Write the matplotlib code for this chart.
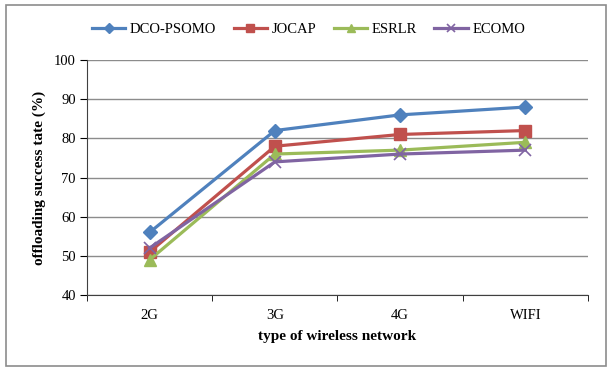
import matplotlib.pyplot as plt
from matplotlib.patches import Rectangle

# Dados
redes = ['2G', '3G', '4G', 'WIFI']
dco_psomo = [56, 82, 86, 88]
jocap = [51, 78, 81, 82]
esrlr = [49, 76, 77, 79]
ecomo = [52, 74, 76, 77]

plt.rcParams['font.family'] = ['Liberation Serif', 'DejaVu Serif']

fig = plt.figure(figsize=(6.15, 3.73), dpi=100)
ax = fig.add_axes([0.1415, 0.209, 0.8145, 0.630])

# moldura externa cinza
fig.patches.append(Rectangle((6 / 615, 1 - 366 / 373), 600 / 615, 361 / 373,
                             transform=fig.transFigure, fill=False,
                             edgecolor='#8c8c8c', linewidth=1.2))

x = range(len(redes))
lw = 2.3
ax.plot(x, dco_psomo, color='#4F81BD', marker='D', markersize=7, linewidth=lw, label='DCO-PSOMO')
ax.plot(x, jocap, color='#C0504D', marker='s', markersize=8, linewidth=lw, label='JOCAP')
ax.plot(x, esrlr, color='#9BBB59', marker='^', markersize=8, linewidth=lw, label='ESRLR')
ax.plot(x, ecomo, color='#8064A2', marker='x', markersize=8, markeredgewidth=1.2, linewidth=lw, label='ECOMO')

ax.set_xlim(-0.5, 3.5)
ax.set_ylim(40, 100)
ax.set_yticks(range(40, 101, 10))
ax.yaxis.grid(True, color='#8c8c8c', linewidth=1)
ax.set_axisbelow(True)

ax.set_xticks(list(x))
ax.set_xticklabels(redes)
ax.set_xticks([-0.5, 0.5, 1.5, 2.5, 3.5], minor=True)
ax.tick_params(axis='x', which='major', length=0, pad=10, labelsize=10.5)
ax.tick_params(axis='x', which='minor', length=4, direction='out')
ax.tick_params(axis='y', length=5, direction='out', pad=3, labelsize=10.5)

for s in ['top', 'right']:
    ax.spines[s].set_visible(False)
for s in ['left', 'bottom']:
    ax.spines[s].set_color('#404040')

ax.set_xlabel('type of wireless network', fontweight='bold', fontsize=11, labelpad=6)
ax.set_ylabel('offloading success tate (%)', fontweight='bold', fontsize=11, labelpad=6)

fig.legend(loc='upper left', bbox_to_anchor=(0.128, 0.975), ncol=4, frameon=False,
           fontsize=10.5, handlelength=2.3, columnspacing=1.2, handletextpad=0.3,
           markerscale=0.75)

plt.savefig('out.png', dpi=100)
